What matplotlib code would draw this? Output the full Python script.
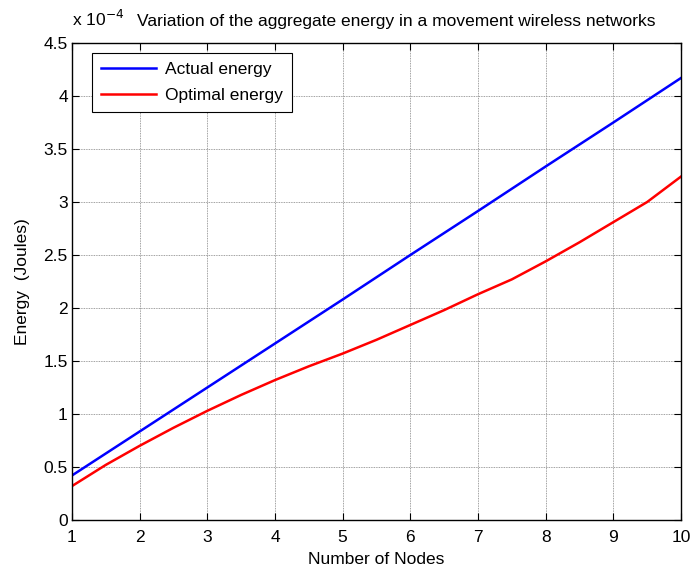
import matplotlib
matplotlib.use("Agg")
import matplotlib.pyplot as plt
import numpy as np

plt.rcParams['font.family'] = ['Liberation Sans', 'DejaVu Sans']

nodes_actual = [1, 2, 3, 4, 5, 6, 7, 8, 9, 10]
actual_energy = [0.42, 0.835, 1.25, 1.665, 2.08, 2.50, 2.915, 3.335, 3.75, 4.17]

nodes_opt = [1, 1.5, 2, 2.5, 3, 3.5, 4, 4.5, 5, 5.5, 6, 6.5, 7, 7.5, 8, 8.5, 9, 9.5, 10]
optimal_energy = [0.32, 0.52, 0.70, 0.87, 1.03, 1.18, 1.32, 1.45, 1.57, 1.70, 1.84,
                  1.98, 2.13, 2.27, 2.44, 2.62, 2.81, 3.00, 3.24]

xticks = [1, 2, 3, 4, 5, 6, 7, 8, 9, 10]
yticks = [0, 0.5, 1, 1.5, 2, 2.5, 3, 3.5, 4, 4.5]
ytick_labels = ['0', '0.5', '1', '1.5', '2', '2.5', '3', '3.5', '4', '4.5']

FS = 12.5

fig = plt.figure(figsize=(6.9, 5.7), dpi=100)
ax = fig.add_axes([0.1043, 0.0877, 0.8827, 0.8369])

ax.plot(nodes_actual, actual_energy, color='#0000ff', lw=1.8, label='Actual energy')
ax.plot(nodes_opt, optimal_energy, color='#ff0000', lw=1.8, label='Optimal energy')

ax.set_xlim(1, 10)
ax.set_ylim(0, 4.5)
ax.set_xticks(xticks)
ax.set_xticklabels([str(t) for t in xticks])
ax.set_yticks(yticks)
ax.set_yticklabels(ytick_labels)
ax.tick_params(direction='in', length=5, width=0.8, labelsize=FS, top=True, right=True,
               labeltop=False, labelright=False, pad=3)
ax.tick_params(axis='x', pad=7)
ax.grid(True, color='#808080', linestyle=(0, (1, 1)), linewidth=0.6)
for s in ax.spines.values():
    s.set_linewidth(1.0)
    s.set_color('black')

ax.set_xlabel('Number of Nodes', fontsize=FS, labelpad=5)
ax.set_ylabel('Energy  (Joules)', fontsize=FS, labelpad=10)

fig.text(0.104, 0.954, r'x 10$^{-4}$', fontsize=FS, ha='left', va='baseline')
fig.text(0.199, 0.954, 'Variation of the aggregate energy in a movement wireless networks',
         fontsize=FS, ha='left', va='baseline')

leg = ax.legend(loc='upper left', bbox_to_anchor=(0.033, 0.979), fontsize=FS, frameon=True,
                fancybox=False, edgecolor='black', framealpha=1, borderpad=0.5,
                handlelength=3.2, labelspacing=0.65, handletextpad=0.5, borderaxespad=0)
leg.get_frame().set_linewidth(0.8)
leg._legend_box.sep = 5

fig.savefig('out.png', dpi=100)
